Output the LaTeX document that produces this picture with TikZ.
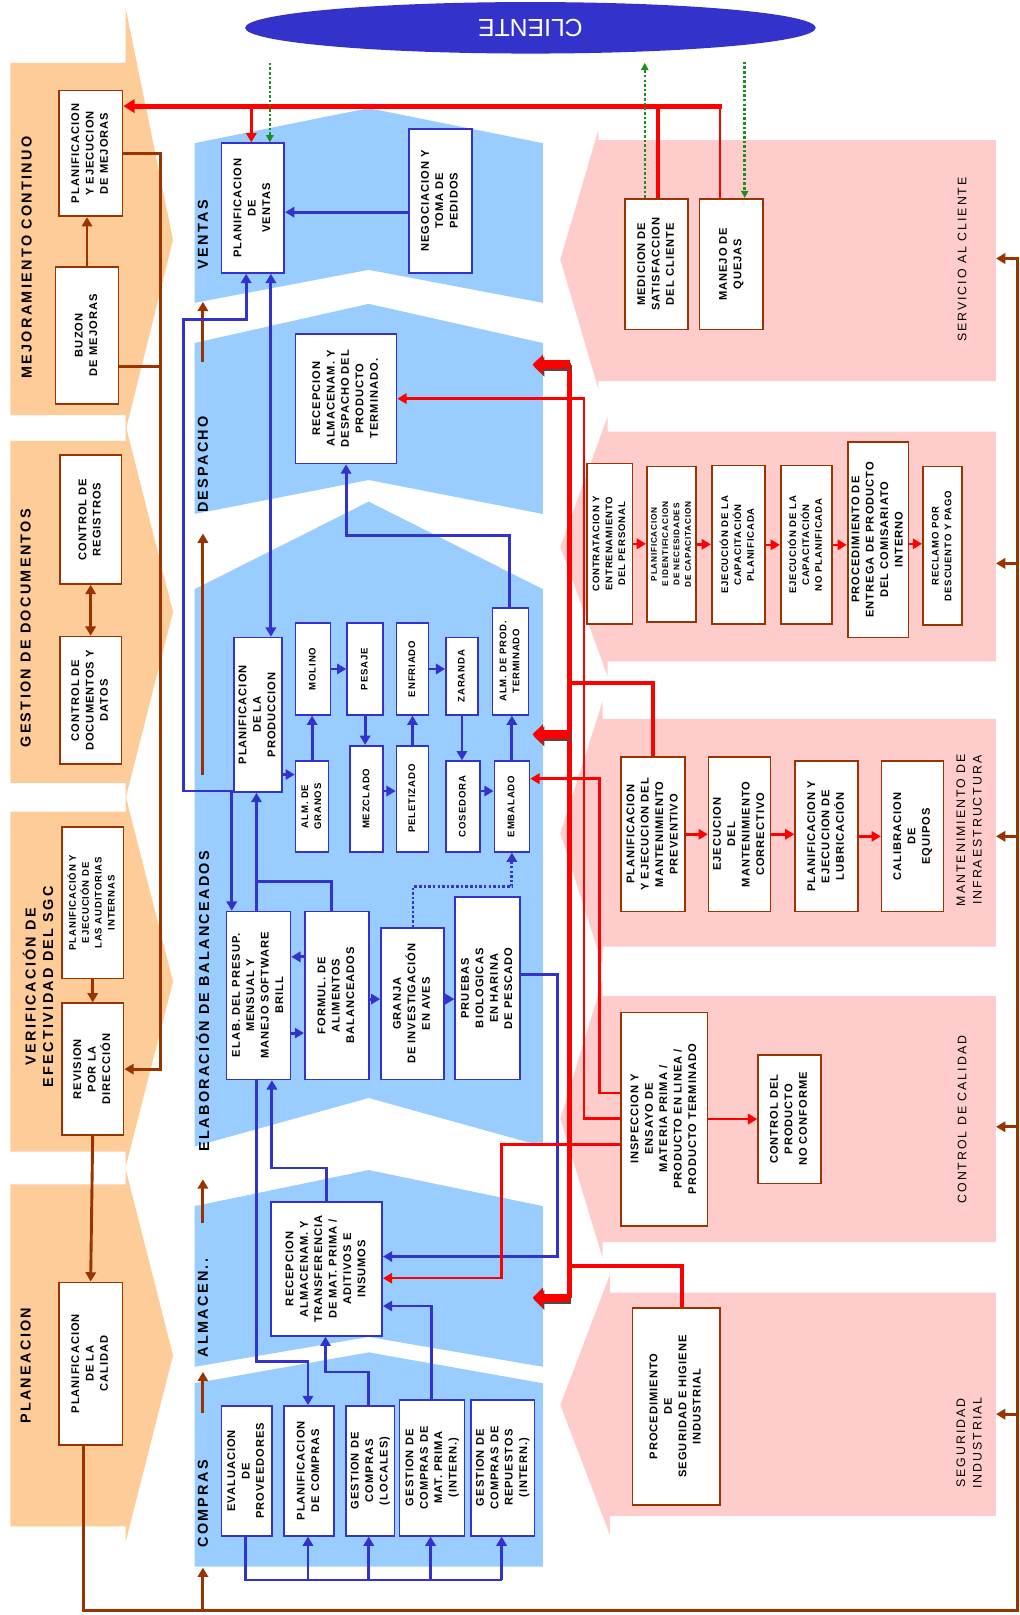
\documentclass[tikz,border=0pt]{standalone}
\usepackage{fontspec}
\setmainfont{Liberation Sans}
\newfontfamily\bxfont{Liberation Sans}[LetterSpace=9]
\newfontfamily\hdfont{Liberation Sans}[LetterSpace=16]
\usepackage{graphicx}
\usepackage{xcolor}
\usepackage{tikz}
\usetikzlibrary{arrows.meta, shapes.geometric}

\definecolor{azul}{RGB}{51,51,204}
\definecolor{celeste}{RGB}{153,204,255}
\definecolor{durazno}{RGB}{253,204,153}
\definecolor{rosa}{RGB}{255,204,204}
\definecolor{cafe}{RGB}{153,51,0}
\definecolor{rojo}{RGB}{255,0,0}
\definecolor{verde}{RGB}{30,140,30}

\newcommand{\rt}[1]{\rotatebox{90}{\begin{tabular}{@{}c@{}}#1\end{tabular}}}

\begin{document}
\begin{tikzpicture}[x=1pt, y=-1pt,
  box/.style={draw, fill=white, line width=1.6pt, inner sep=0pt,
              font=\bxfont\bfseries\fontsize{10.8}{14}\selectfont},
  bbox/.style={box, draw=azul},
  mbox/.style={box, draw=cafe},
  sm/.style={font=\bxfont\bfseries\fontsize{9.3}{12.5}\selectfont},
  xs/.style={font=\bxfont\bfseries\fontsize{8}{11}\selectfont},
  hd/.style={rotate=90, font=\hdfont\bfseries\fontsize{14}{17}\selectfont, align=center},
  rl/.style={rotate=90, font=\hdfont\fontsize{12}{16}\selectfont, align=center},
  barr/.style={draw=azul, line width=2.8pt, -{Triangle[length=9pt,width=10pt]}},
  bdarr/.style={barr, {Triangle[length=9pt,width=10pt]}-{Triangle[length=9pt,width=10pt]}},
  bln/.style={draw=azul, line width=2.8pt},
  rarr/.style={draw=rojo, line width=2.4pt, -{Triangle[length=9pt,width=10pt]}},
  rln/.style={draw=rojo, line width=2.4pt},
  rthk/.style={draw=rojo, line width=4.5pt},
  bigr/.style={line width=8pt, -{Triangle[length=10pt,width=19pt]}},
  brarr/.style={draw=cafe, line width=2.8pt, -{Triangle[length=9pt,width=10pt]}},
  brln/.style={draw=cafe, line width=2.8pt},
  garr/.style={draw=verde, line width=2.4pt, dash pattern=on 2.5pt off 2pt,
               -{Triangle[length=7pt,width=7pt]}},
]
\useasboundingbox (0,0) rectangle (990,1568);

% ---- Fondos ----------------------------------------------------------------
\foreach \t/\b/\ht/\hb/\m in {61/403/8/418/233, 428/760/413/775/594,
                             788/1118/773/1133/953, 1150/1482/1135/1497/1316}
  \fill[durazno] (10,\t) -- (122,\t) -- (122,\ht) -- (168,\m) -- (122,\hb)
                 -- (122,\b) -- (10,\b) -- cycle;
\foreach \l/\t/\b/\ht/\hb/\m in {581/136/370/126/378/252, 590/419/642/404/657/531,
                                 585/698/919/681/937/809, 585/967/1206/952/1221/1086,
                                 592/1255/1472/1238/1490/1364}
  \fill[rosa] (967,\t) -- (\l,\t) -- (\l,\ht) -- (544,\m) -- (\l,\hb)
              -- (\l,\b) -- (967,\b) -- cycle;
\foreach \t/\tp/\b/\bp in {139/105/294/262, 333/295/499/466, 572/487/1113/1066,
                           1171/1136/1327/1298, 1343/1313/1521/1521}
  \fill[celeste] (189,\t) -- (358,\tp) -- (527,\t) -- (527,\b) -- (358,\bp)
                 -- (189,\b) -- cycle;

% ---- Cliente ---------------------------------------------------------------
\node[ellipse, fill=azul, minimum width=554pt, minimum height=50pt, inner sep=0pt,
      text=white, font=\fontsize{24}{24}\selectfont] (cliente) at (515,27)
  {\rotatebox{180}{CLIENTE}};

% ---- Titulos ---------------------------------------------------------------
\node[hd] (lmej) at (26,250) {MEJORAMIENTO CONTINUO};
\node[hd] (lges) at (25,610) {GESTION DE DOCUMENTOS};
\node[hd] (lver) at (37,958) {VERIFICACIÓN DE\\EFECTIVIDAD DEL SGC};
\node[hd] (lpla) at (25,1326) {PLANEACION};
\node[hd] (lven) at (197,228) {VENTAS};
\node[hd] (ldes) at (197,451) {DESPACHO};
\node[hd] (lela) at (197,972) {ELABORACIÓN DE BALANCEADOS};
\node[hd] (lalm) at (197,1270) {ALMACEN..};
\node[hd] (lcom) at (197,1460) {COMPRAS};
\node[rl] (lser) at (934,252) {SERVICIO AL CLIENTE};
\node[rl] (lman) at (941,806) {MANTENIMIENTO DE\\INFRAESTRUCTURA};
\node[rl] (lcal) at (934,1087) {CONTROL DE CALIDAD};
\node[rl] (lseg) at (941,1401) {SEGURIDAD\\INDUSTRIAL};

% ---- Procesos de apoyo (izquierda) -----------------------------------------
\node[mbox, minimum width=62pt, minimum height=122pt] (mejoras) at (88,149)
  {\rt{PLANIFICACION\\Y EJECUCION\\DE MEJORAS}};
\node[mbox, minimum width=61pt, minimum height=133pt] (buzon) at (84.5,325.5)
  {\rt{BUZON\\DE MEJORAS}};
\node[mbox, minimum width=60pt, minimum height=125pt] (registros) at (88,504.5)
  {\rt{CONTROL DE\\REGISTROS}};
\node[mbox, minimum width=60pt, minimum height=124pt] (documentos) at (88,680)
  {\rt{CONTROL DE\\DOCUMENTOS Y\\DATOS}};
\node[mbox, sm, minimum width=60pt, minimum height=147pt] (auditorias) at (90,876.5)
  {\rt{PLANIFICACIÓN Y\\EJECUCIÓN DE\\LAS AUDITORIAS\\INTERNAS}};
\node[mbox, minimum width=60pt, minimum height=128pt] (revision) at (90,1038)
  {\rt{REVISION\\POR LA\\DIRECCIÓN}};
\node[mbox, minimum width=62pt, minimum height=158pt] (calidad) at (88,1324)
  {\rt{PLANIFICACION\\DE LA\\CALIDAD}};

% ---- Ventas y despacho -----------------------------------------------------
\node[bbox, minimum width=61pt, minimum height=126pt] (pventas) at (245.5,202)
  {\rt{PLANIFICACION\\DE\\VENTAS}};
\node[bbox, minimum width=61pt, minimum height=140pt] (negociacion) at (427.5,195)
  {\rt{NEGOCIACION Y\\TOMA DE\\PEDIDOS}};
\node[bbox, minimum width=98pt, minimum height=126pt] (recdesp) at (336,387)
  {\rt{RECEPCION\\ALMACENAM. Y\\DESPACHO DEL\\PRODUCTO\\TERMINADO.}};

% ---- Elaboracion -----------------------------------------------------------
\node[bbox, minimum width=47pt, minimum height=150pt] (pprod) at (250.5,694)
  {\rt{PLANIFICACION\\DE LA\\PRODUCCION}};
\node[bbox, sm, minimum width=34pt, minimum height=89pt] (molino) at (304,649.5) {\rt{MOLINO}};
\node[bbox, sm, minimum width=35pt, minimum height=89pt] (pesaje) at (354.5,649.5) {\rt{PESAJE}};
\node[bbox, sm, minimum width=31pt, minimum height=89pt] (enfriado) at (400.5,649.5) {\rt{ENFRIADO}};
\node[bbox, sm, minimum width=31pt, minimum height=75pt] (zaranda) at (448.5,656.5) {\rt{ZARANDA}};
\node[bbox, sm, minimum width=35pt, minimum height=104pt] (almprod) at (495.5,642)
  {\rt{ALM. DE PROD.\\TERMINADO}};
\node[bbox, sm, minimum width=32pt, minimum height=88pt] (almgranos) at (303,783)
  {\rt{ALM. DE\\GRANOS}};
\node[bbox, sm, minimum width=32pt, minimum height=103pt] (mezclado) at (356,775.5) {\rt{MEZCLADO}};
\node[bbox, sm, minimum width=31pt, minimum height=103pt] (peletizado) at (400.5,775.5) {\rt{PELETIZADO}};
\node[bbox, sm, minimum width=33pt, minimum height=88pt] (cosedora) at (449.5,783) {\rt{COSEDORA}};
\node[bbox, sm, minimum width=34pt, minimum height=88pt] (embalado) at (497,783) {\rt{EMBALADO}};
\node[bbox, minimum width=62pt, minimum height=163pt] (presup) at (251,966.5)
  {\rt{ELAB. DEL PRESUP.\\MENSUAL Y\\MANEJO SOFTWARE\\BRILL}};
\node[bbox, minimum width=62pt, minimum height=163pt] (formul) at (327,966.5)
  {\rt{FORMUL. DE\\ALIMENTOS\\BALANCEADOS}};
\node[bbox, minimum width=61pt, minimum height=147pt] (granja) at (400.5,974.5)
  {\rt{GRANJA\\DE INVESTIGACIÓN\\EN AVES}};
\node[bbox, minimum width=63pt, minimum height=177pt] (pruebas) at (473.5,959.5)
  {\rt{PRUEBAS\\BIOLOGICAS\\EN HARINA\\DE PESCADO}};

% ---- Almacen y compras -----------------------------------------------------
\node[bbox, minimum width=108pt, minimum height=130pt] (recmp) at (317,1232)
  {\rt{RECEPCION\\ALMACENAM. Y\\TRANSFERENCIA\\DE MAT. PRIMA /\\ADITIVOS E\\INSUMOS}};
\node[bbox, minimum width=49pt, minimum height=126pt] (evaluacion) at (239.5,1428)
  {\rt{EVALUACION\\DE\\PROVEEDORES}};
\node[bbox, minimum width=48pt, minimum height=126pt] (pcompras) at (300,1428)
  {\rt{PLANIFICACION\\DE COMPRAS}};
\node[bbox, minimum width=47pt, minimum height=126pt] (glocales) at (359.5,1428)
  {\rt{GESTION DE\\COMPRAS\\(LOCALES)}};
\node[bbox, minimum width=63pt, minimum height=132pt] (gmp) at (419.5,1425)
  {\rt{GESTION DE\\COMPRAS DE\\MAT. PRIMA\\(INTERN.)}};
\node[bbox, minimum width=62pt, minimum height=132pt] (grep) at (488,1425)
  {\rt{GESTION DE\\COMPRAS DE\\REPUESTOS\\(INTERN.)}};

% ---- Procesos de soporte (derecha) -----------------------------------------
\node[mbox, minimum width=61pt, minimum height=127pt] (medicion) at (637.5,256.5)
  {\rt{MEDICION DE\\SATISFACCION\\DEL CLIENTE}};
\node[mbox, minimum width=62pt, minimum height=127pt] (manejo) at (710,256.5)
  {\rt{MANEJO DE\\QUEJAS}};
\node[mbox, sm, minimum width=44pt, minimum height=156pt] (contratacion) at (592,528)
  {\rt{CONTRATACION Y\\ENTRENAMIENTO\\DEL PERSONAL}};
\node[mbox, xs, minimum width=48pt, minimum height=151pt] (pcap) at (652,528.5)
  {\rt{PLANIFICACION\\E IDENTIFICACION\\DE NECESIDADES\\DE CAPACITACION}};
\node[mbox, sm, minimum width=52pt, minimum height=154pt] (ecap) at (717,529)
  {\rt{EJECUCIÓN DE LA\\CAPACITACIÓN\\PLANIFICADA}};
\node[mbox, sm, minimum width=50pt, minimum height=154pt] (encap) at (783,529)
  {\rt{EJECUCIÓN DE LA\\CAPACITACIÓN\\NO PLANIFICADA}};
\node[mbox, minimum width=59pt, minimum height=190pt] (comisariato) at (852.5,524)
  {\rt{PROCEDIMIENTO DE\\ENTREGA DE PRODUCTO\\DEL COMISARIATO\\INTERNO}};
\node[mbox, sm, minimum width=38pt, minimum height=154pt] (reclamo) at (915,530)
  {\rt{RECLAMO POR\\DESCUENTO Y PAGO}};
\node[mbox, minimum width=62pt, minimum height=150pt] (mprev) at (634,810)
  {\rt{PLANIFICACION\\Y EJECUCION DEL\\MANTENIMIENTO\\PREVENTIVO}};
\node[mbox, minimum width=60pt, minimum height=150pt] (mcorr) at (718,810)
  {\rt{EJECUCION\\DEL\\MANTENIMIENTO\\CORRECTIVO}};
\node[mbox, minimum width=61pt, minimum height=146pt] (lubric) at (802.5,812)
  {\rt{PLANIFICACION Y\\EJECUCION DE\\LUBRICACIÓN}};
\node[mbox, minimum width=60pt, minimum height=146pt] (calib) at (886,812)
  {\rt{CALIBRACION\\DE\\EQUIPOS}};
\node[mbox, minimum width=84pt, minimum height=207pt] (inspeccion) at (645,1086.5)
  {\rt{INSPECCION Y\\ENSAYO DE\\MATERIA PRIMA /\\PRODUCTO EN LINEA /\\PRODUCTO TERMINADO}};
\node[mbox, minimum width=61pt, minimum height=125pt] (noconforme) at (766.5,1086.5)
  {\rt{CONTROL DEL\\PRODUCTO\\NO CONFORME}};
\node[mbox, minimum width=85pt, minimum height=191pt] (seguridad) at (656.5,1365.5)
  {\rt{PROCEDIMIENTO\\DE\\SEGURIDAD E HIGIENE\\INDUSTRIAL}};

% ---- Puntos libres ---------------------------------------------------------
\coordinate (g1) at (262,61);
\coordinate (g2) at (626,61);
\coordinate (g3) at (723,60);
\coordinate (busA) at (553,354);
\coordinate (busB) at (553,713);
\coordinate (busC) at (553,1260);
\coordinate (tipA) at (517,354);
\coordinate (tipB) at (517,713);
\coordinate (tipC) at (517,1260);

% ---- Flechas cafe ----------------------------------------------------------
\draw[brarr] (buzon.north) -- (buzon.north |- mejoras.south);
\draw[brarr] (mejoras.east) -- (156,149) -- (156,1038) -- (revision.east);
\draw[brln] (buzon.east |- 0,356) -- (156,356);
\draw[brarr, {Triangle[length=9pt,width=10pt]}-{Triangle[length=9pt,width=10pt]}]
  (registros.south) -- (documentos.north);
\draw[brarr] (auditorias.south) -- (revision.north);
\draw[brarr] (revision.south) -- (calidad.north);
\draw[brarr] (calidad.south -| 81,0) -- (81,1564) -- (988,1564) -- (988,251) -- (967,251);
\foreach \y in {547, 812, 1094, 1373}
  \draw[brarr] (988,\y) -- (967,\y);
\foreach \a/\b in {351/293, 752/518, 1187/1145, 1372/1332, 1564/1522}
  \draw[brarr] (197,\a) -- (197,\b);

% ---- Lineas rojas superiores -----------------------------------------------
\draw[rln] (manejo.north -| 699,0) -- (699,103);
\draw[draw=rojo, line width=5pt, -{Triangle[length=11pt,width=13pt]}]
  (701,103) -- (mejoras.east |- 0,103);
\draw[rthk] (medicion.north -| 639,0) -- (639,103);
\draw[rarr] (244,103) -- (pventas.north -| 244,0);
\draw[garr] (g1) -- (pventas.north -| 262,0);
\draw[garr] (medicion.north -| 626,0) -- (g2);
\draw[garr] (g3) -- (manejo.north -| 723,0);

% ---- Ventas / produccion ---------------------------------------------------
\draw[barr] (negociacion.west |- 0,206) -- (pventas.east |- 0,206);
\draw[bdarr] (pventas.south -| 263,0) -- (pprod.north -| 263,0);
\draw[bdarr] (pventas.south -| 239,0) -- (239,310) -- (178,310) -- (178,768)
  -- (225,768) -- (presup.north -| 225,0);
\draw[barr] (presup.north -| 249,0) -- (pprod.south -| 249,0);
\draw[bln] (formul.north -| 322,0) -- (322,856) -- (249,856);
\draw[barr] (pprod.east |- 0,752) -- (almgranos.west |- 0,752);
\draw[barr] (almgranos.north) -- (almgranos.north |- molino.south);
\draw[barr] (molino.east) -- (molino.east -| pesaje.west);
\draw[barr] (pesaje.south) -- (pesaje.south |- mezclado.north);
\draw[barr] (mezclado.east |- 0,768) -- (peletizado.west |- 0,768);
\draw[barr] (peletizado.north) -- (peletizado.north |- enfriado.south);
\draw[barr] (enfriado.east) -- (enfriado.east -| zaranda.west);
\draw[barr] (zaranda.south) -- (zaranda.south |- cosedora.north);
\draw[barr] (cosedora.east |- 0,768) -- (embalado.west |- 0,768);
\draw[barr] (embalado.north) -- (embalado.north |- almprod.south);
\draw[barr] (almprod.north -| 495,0) -- (495,520) -- (336,520) -- (recdesp.south);
\draw[barr] (formul.west |- 0,929) -- (presup.east |- 0,929);
\draw[barr] (presup.east |- 0,1003) -- (formul.west |- 0,1003);
\draw[barr] (formul.east |- 0,970) -- (granja.west |- 0,970);
\draw[barr] (granja.east |- 0,970) -- (pruebas.west |- 0,970);
\draw[barr, dash pattern=on 2.5pt off 2pt] (granja.north -| 401,0) -- (401,861)
  -- (497,861) -- (embalado.south -| 497,0);
\draw[barr] (pruebas.east |- 0,946) -- (541,946) -- (541,1220) -- (recmp.east |- 0,1220);

% ---- Almacen / compras -----------------------------------------------------
\draw[barr] (presup.south -| 249,0) -- (249,1322) -- (299,1322) -- (pcompras.north -| 299,0);
\draw[barr] (recmp.north) -- (317,1134) -- (264,1134) -- (presup.south -| 264,0);
\draw[barr] (glocales.north -| 358,0) -- (358,1332) -- (316,1332) -- (recmp.south -| 316,0);
\draw[barr] (gmp.north -| 419,0) -- (419,1268) -- (recmp.east |- 0,1268);
\draw[bln] (evaluacion.south -| 238,0) -- (238,1534) -- (487,1534);
\draw[barr] (299,1534) -- (pcompras.south -| 299,0);
\draw[barr] (358,1534) -- (glocales.south -| 358,0);
\draw[barr] (418,1534) -- (gmp.south -| 418,0);
\draw[barr] (487,1534) -- (grep.south -| 487,0);

% ---- Red roja de soporte ---------------------------------------------------
\draw[rthk] (busA) -- (busC);
\draw[rthk] (mprev.north) -- (mprev.north |- 0,663) -- (553,663);
\draw[rthk] (seguridad.north -| 662,0) -- (662,1229) -- (553,1229);
\foreach \s/\e in {busA/tipA, busB/tipB, busC/tipC} {
  \draw[bigr, draw=black!70] ([shift={(1.5,2)}]\s) -- ([shift={(1.5,2)}]\e);
  \draw[bigr, draw=rojo] (\s) -- (\e);
}
\draw[rarr] (inspeccion.west |- 0,1061) -- (582,1061) -- (582,756) -- (embalado.east |- 0,756);
\draw[rarr] (inspeccion.west |- 0,1086) -- (567,1086) -- (567,387) -- (recdesp.east |- 0,387);
\draw[rarr] (inspeccion.west |- 0,1111) -- (487,1111) -- (487,1241) -- (recmp.east |- 0,1241);
\draw[rarr] (inspeccion.east) -- (noconforme.west);
\draw[rarr] (contratacion.east) -- (contratacion.east -| pcap.west);
\draw[rarr] (pcap.east) -- (pcap.east -| ecap.west);
\draw[rarr] (ecap.east) -- (ecap.east -| encap.west);
\draw[rarr] (encap.east) -- (encap.east -| comisariato.west);
\draw[rarr] (comisariato.east |- 0,528) -- (reclamo.west |- 0,528);
\draw[rarr] (mprev.east) -- (mprev.east -| mcorr.west);
\draw[rarr] (mcorr.east) -- (mcorr.east -| lubric.west);
\draw[rarr] (lubric.east) -- (lubric.east -| calib.west);

\end{tikzpicture}
\end{document}
